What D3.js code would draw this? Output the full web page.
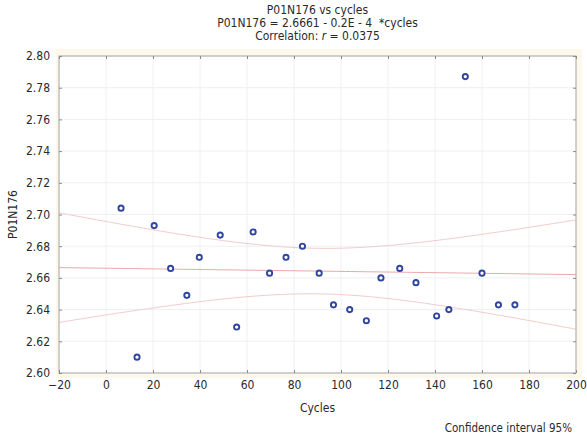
<!DOCTYPE html>
<html>
<head>
<meta charset="utf-8">
<script src="https://cdn.jsdelivr.net/npm/d3@7"></script>
<style>
  body { margin: 0; background: #fff; }
  text { font-family: "DejaVu Sans", sans-serif; font-stretch: condensed; fill: #2a2a2a; }
</style>
</head>
<body>
<div id="chart"></div>
<script>
let width = 587;
let height = 436;

// data
let cycles = [6.4, 13.2, 20.5, 27.5, 34.4, 39.7, 48.6, 55.6, 62.6, 69.6, 76.6, 83.6, 90.7,
              96.8, 103.7, 110.8, 117.0, 125.0, 131.9, 140.7, 145.9, 152.9, 160.0, 167.0, 174.0];
let values = [2.704, 2.610, 2.693, 2.666, 2.649, 2.673, 2.687, 2.629, 2.689, 2.663, 2.673, 2.680, 2.663,
              2.643, 2.640, 2.633, 2.660, 2.666, 2.657, 2.636, 2.640, 2.787, 2.663, 2.643, 2.643];
let xTicks = [-20, 0, 20, 40, 60, 80, 100, 120, 140, 160, 180, 200];
let yTicks = [2.60, 2.62, 2.64, 2.66, 2.68, 2.70, 2.72, 2.74, 2.76, 2.78, 2.80];
let intercept = 2.6661;
let slope = -0.2e-4;

let margin = { top: 56, right: 11, bottom: 63, left: 59 };
let innerW = width - margin.left - margin.right;
let innerH = height - margin.top - margin.bottom;
let fs = '12px';

let svg = d3.select('#chart').append('svg')
    .attr('width', width)
    .attr('height', height);

let x = d3.scaleLinear().domain([-20, 200]).range([margin.left, margin.left + innerW]);
let y = d3.scaleLinear().domain([2.60, 2.80]).range([margin.top + innerH, margin.top]);

// cream frame round the plot
svg.append('rect')
    .attr('x', margin.left - 3).attr('y', margin.top - 7)
    .attr('width', innerW + 9).attr('height', innerH + 12)
    .attr('fill', '#fdf8ea');
svg.append('rect')
    .attr('x', margin.left).attr('y', margin.top)
    .attr('width', innerW).attr('height', innerH)
    .attr('fill', '#fff');

// grid
svg.append('g').selectAll('line.gx')
    .data(xTicks).enter().append('line')
    .attr('x1', d => x(d)).attr('x2', d => x(d))
    .attr('y1', margin.top).attr('y2', margin.top + innerH)
    .attr('stroke', '#edf0f3').attr('stroke-width', 1);
svg.append('g').selectAll('line.gy')
    .data(yTicks).enter().append('line')
    .attr('x1', margin.left).attr('x2', margin.left + innerW)
    .attr('y1', d => y(d)).attr('y2', d => y(d))
    .attr('stroke', '#edf0f3').attr('stroke-width', 1);

// regression line + 95% confidence band
let n = cycles.length;
let xbar = d3.mean(cycles);
let sxx = d3.sum(cycles, c => (c - xbar) * (c - xbar));
let sse = d3.sum(cycles, (c, i) => Math.pow(values[i] - (intercept + slope * c), 2));
let s = Math.sqrt(sse / (n - 2));
let tval = 2.069;
let xs = d3.range(-20, 200.5, 2);
let fit = c => intercept + slope * c;
let half = c => tval * s * Math.sqrt(1 / n + (c - xbar) * (c - xbar) / sxx);

let line = d3.line().x(d => x(d[0])).y(d => y(d[1]));
svg.append('path')
    .attr('d', line(xs.map(c => [c, fit(c) + half(c)])))
    .attr('fill', 'none').attr('stroke', '#f2cccc').attr('stroke-width', 1);
svg.append('path')
    .attr('d', line(xs.map(c => [c, fit(c) - half(c)])))
    .attr('fill', 'none').attr('stroke', '#f2cccc').attr('stroke-width', 1);
svg.append('path')
    .attr('d', line(xs.map(c => [c, fit(c)])))
    .attr('fill', 'none').attr('stroke', '#eaa8a8').attr('stroke-width', 1);

// frame and inward ticks
svg.append('rect')
    .attr('x', margin.left).attr('y', margin.top)
    .attr('width', innerW).attr('height', innerH)
    .attr('fill', 'none').attr('stroke', '#a8a8a8').attr('stroke-width', 1);

let axB = d3.axisBottom(x).tickValues(xTicks).tickSize(-3).tickPadding(7).tickFormat(d3.format('d'));
let axT = d3.axisTop(x).tickValues(xTicks).tickSize(-3).tickFormat('');
let axL = d3.axisLeft(y).tickValues(yTicks).tickSize(-3).tickPadding(9).tickFormat(d3.format('.2f'));
let axR = d3.axisRight(y).tickValues(yTicks).tickSize(-3).tickFormat('');

function styleAxis(g) {
    g.select('.domain').remove();
    g.selectAll('.tick line').attr('stroke', '#8a8a8a');
    g.selectAll('.tick text').style('font-size', fs).attr('fill', '#2a2a2a')
        .style('font-family', '"DejaVu Sans", sans-serif').style('font-stretch', 'condensed');
}
svg.append('g').attr('transform', 'translate(0,' + (margin.top + innerH) + ')').call(axB).call(styleAxis);
svg.append('g').attr('transform', 'translate(0,' + margin.top + ')').call(axT).call(styleAxis);
svg.append('g').attr('transform', 'translate(' + margin.left + ',0)').call(axL).call(styleAxis);
svg.append('g').attr('transform', 'translate(' + (margin.left + innerW) + ',0)').call(axR).call(styleAxis);

// points
svg.append('g').selectAll('circle')
    .data(cycles).enter().append('circle')
    .attr('cx', d => x(d))
    .attr('cy', (d, i) => y(values[i]))
    .attr('r', 2.6)
    .attr('fill', '#fff')
    .attr('stroke', '#2f45a0')
    .attr('stroke-width', 1.9);

// titles
let cx = margin.left + innerW / 2;
svg.append('text').attr('x', cx).attr('y', 14).attr('text-anchor', 'middle')
    .style('font-size', fs).text('P01N176 vs cycles');
svg.append('text').attr('x', cx).attr('y', 27).attr('text-anchor', 'middle')
    .style('font-size', fs).style('white-space', 'pre').text('P01N176 = 2.6661 - 0.2E - 4  *cycles');
let t3 = svg.append('text').attr('x', cx).attr('y', 40).attr('text-anchor', 'middle')
    .style('font-size', fs);
t3.append('tspan').text('Correlation: ');
t3.append('tspan').style('font-style', 'italic').text('r');
t3.append('tspan').text(' = 0.0375');

svg.append('text').attr('x', cx).attr('y', 412).attr('text-anchor', 'middle')
    .style('font-size', fs).text('Cycles');
svg.append('text')
    .attr('transform', 'translate(17,' + (margin.top + innerH / 2) + ') rotate(-90)')
    .attr('text-anchor', 'middle')
    .style('font-size', fs).text('P01N176');
svg.append('text').attr('x', 572).attr('y', 432).attr('text-anchor', 'end')
    .style('font-size', '11.5px').text('Confidence interval 95%');
</script>
</body>
</html>
